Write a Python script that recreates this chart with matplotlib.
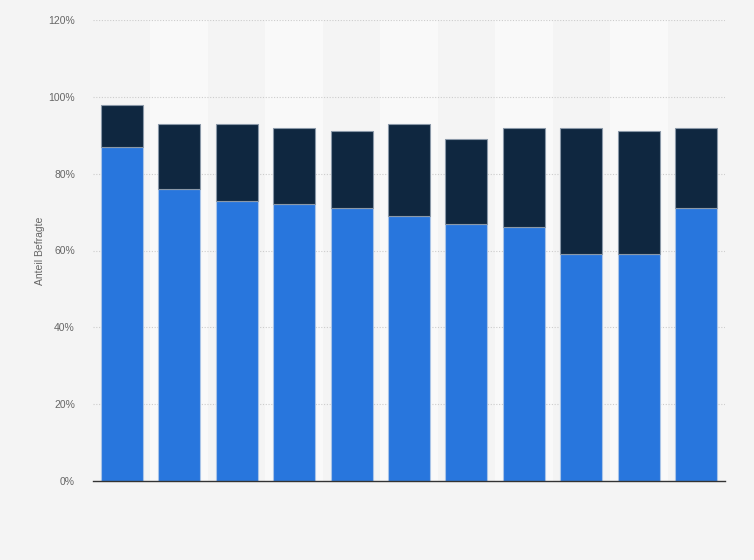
import matplotlib
matplotlib.use("Agg")
import matplotlib.pyplot as plt
import numpy as np

plt.rcParams['font.family'] = ['Liberation Sans', 'DejaVu Sans']

categories = [str(i) for i in range(1, 12)]
lower_values = [87, 76, 73, 72, 71, 69, 67, 66, 59, 59, 71]
upper_values = [11, 17, 20, 20, 20, 24, 22, 26, 33, 32, 21]
y_ticks = [0, 20, 40, 60, 80, 100, 120]
y_tick_labels = ["0%", "20%", "40%", "60%", "80%", "100%", "120%"]

fig = plt.figure(figsize=(7.54, 5.6), dpi=100)
fig.patch.set_facecolor("#f4f4f4")
ax = fig.add_axes([93/754, 1 - 481/560, (725-93)/754, (481-20)/560])
ax.set_facecolor("#f4f4f4")

x = np.arange(len(categories))
for i in x:
    if i % 2 == 1:
        ax.axvspan(i - 0.5, i + 0.5, color="#f9f9f9", zorder=0, lw=0)

for yv in y_ticks[1:]:
    ax.axhline(yv, color="#cccccc", lw=0.8, ls=(0, (1, 1.5)), zorder=1)

ax.bar(x, lower_values, width=0.73, color="#2876dd", edgecolor="#a9c4e8", linewidth=0.8, zorder=2)
ax.bar(x, upper_values, bottom=lower_values, width=0.73, color="#0f2740", edgecolor="#8a98a8", linewidth=0.8, zorder=2)

ax.set_xlim(-0.5, len(categories) - 0.5)
ax.set_ylim(0, 120)
ax.set_yticks(y_ticks)
ax.set_yticklabels(y_tick_labels, color="#666666", fontsize=7.5)
ax.set_xticks([])
ax.tick_params(axis="y", length=0, pad=13)
for s in ["top", "right", "left"]:
    ax.spines[s].set_visible(False)
ax.spines["bottom"].set_color("#333333")
ax.spines["bottom"].set_linewidth(1.0)
ax.spines["bottom"].set_zorder(3)
ax.set_ylabel("Anteil Befragte", color="#666666", fontsize=7.5)
ax.yaxis.set_label_coords((45 - 93) / 632, 0.5)

fig.savefig("out.png", dpi=100, facecolor=fig.get_facecolor())
